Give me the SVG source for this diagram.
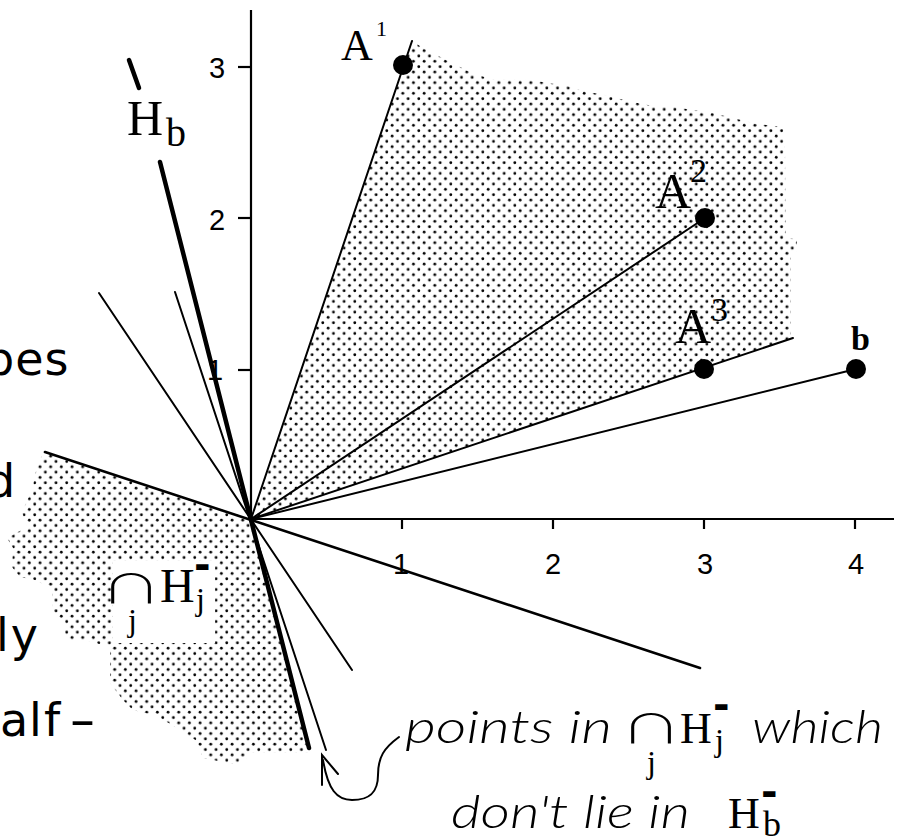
<svg xmlns="http://www.w3.org/2000/svg" width="898" height="836" viewBox="0 0 898 836">
<defs>
  <pattern id="stip" width="10.67" height="10.67" patternUnits="userSpaceOnUse">
    <circle cx="2.67" cy="2.67" r="1.4" fill="#000"/>
    <circle cx="8" cy="8" r="1.4" fill="#000"/>
  </pattern>
</defs>
<style>
  .thin{stroke:#000;stroke-width:2;fill:none;stroke-linecap:round}
  .mid{stroke:#000;stroke-width:2.6;fill:none;stroke-linecap:round}
  .thick{stroke:#000;stroke-width:4.5;fill:none;stroke-linecap:round}
  .ax{stroke:#000;stroke-width:2.2;fill:none}
  .num{font-family:"Liberation Sans",Arial,sans-serif;font-size:29px;fill:#000}
  .serif{font-family:"Liberation Serif","Times New Roman",serif;fill:#000}
  .big{font-family:"DejaVu Sans",sans-serif;font-size:46px;fill:#000}
  .ital{font-family:Lato,"DejaVu Sans",sans-serif;font-style:italic;font-weight:300;font-size:46px;fill:#000}
  .sym{font-family:"Noto Sans CJK SC","DejaVu Sans",sans-serif;font-weight:300;font-size:44px;fill:#000}
  .bar{font-family:"DejaVu Sans",sans-serif;font-weight:bold;font-size:40px;fill:#000}
  .dot{fill:#000}
</style>
<rect width="898" height="836" fill="#fff"/>

<g id="shading" stroke="none">
  <polygon fill="url(#stip)" points="251,519 412,41 423,48 450,62 470,72 490,79 530,80 567,86 583,91 610,96 627,101 653,106 673,107 700,111 713,113 733,118 757,124 783,127 785,150 786,237 797,240 797,251 791,254 791,337 793,338"/>
  <polygon fill="url(#stip)" points="251,519 45,452 38,462 32,490 22,512 27,527 7,538 13,548 12,567 20,577 35,580 52,588 53,610 65,628 65,640 85,640 110,647 110,683 123,700 133,710 157,716 172,725 197,741 203,758 233,764 245,762 248,753 310,753"/>
  <rect x="113" y="561" width="102" height="82" fill="#fff"/>
</g>

<g id="axes">
  <line class="ax" x1="251" y1="10" x2="251" y2="519"/>
  <line class="ax" x1="251" y1="519" x2="894" y2="519"/>
  <line class="ax" x1="238" y1="67" x2="251" y2="67"/>
  <line class="ax" x1="238" y1="218" x2="251" y2="218"/>
  <line class="ax" x1="238" y1="370" x2="251" y2="370"/>
  <line class="ax" x1="402" y1="519" x2="402" y2="529"/>
  <line class="ax" x1="553" y1="519" x2="553" y2="529"/>
  <line class="ax" x1="704" y1="519" x2="704" y2="529"/>
  <line class="ax" x1="855" y1="519" x2="855" y2="529"/>
  <text class="num" x="217" y="78" text-anchor="middle">3</text>
  <text class="num" x="217" y="230" text-anchor="middle">2</text>
  <text class="num" x="215" y="380" text-anchor="middle">1</text>
  <text class="num" x="401" y="574" text-anchor="middle">1</text>
  <text class="num" x="553" y="574" text-anchor="middle">2</text>
  <text class="num" x="705" y="574" text-anchor="middle">3</text>
  <text class="num" x="856" y="574" text-anchor="middle">4</text>
</g>

<g id="connectors">
  <line class="mid" x1="45" y1="452" x2="700" y2="668"/>
  <line class="thin" x1="99" y1="293" x2="352" y2="670"/>
  <line class="thin" x1="175" y1="292" x2="326" y2="750"/>
  <line class="thin" x1="251" y1="519" x2="412" y2="41"/>
  <line class="thin" x1="251" y1="519" x2="705" y2="218"/>
  <line class="thin" x1="251" y1="519" x2="793" y2="338"/>
  <line class="thin" x1="251" y1="519" x2="856" y2="369"/>
  <line class="thick" x1="160" y1="162" x2="309" y2="748"/>
  <line class="thick" x1="129" y1="60" x2="139" y2="88"/>
  <path class="thin" d="M399,737 C384,748 378,757 378,775 C378,792 370,800 352,800 C337,800 328,790 323,760"/>
  <path class="thin" d="M322,785 L322,755 L338,774"/>
</g>

<g id="node-A1">
  <circle class="dot" cx="403" cy="65" r="10"/>
  <text class="serif" x="341" y="60" font-size="44">A</text>
  <text class="serif" x="376" y="36" font-size="22">1</text>
</g>
<g id="node-A2">
  <circle class="dot" cx="705" cy="218" r="10"/>
  <text class="serif" x="655" y="208" font-size="50">A</text>
  <text class="serif" x="690" y="182" font-size="34">2</text>
</g>
<g id="node-A3">
  <circle class="dot" cx="704" cy="369" r="10"/>
  <text class="serif" x="675" y="343" font-size="50">A</text>
  <text class="serif" x="711" y="321" font-size="34">3</text>
</g>
<g id="node-b">
  <circle class="dot" cx="856" cy="369" r="10"/>
  <text class="serif" x="851" y="350" font-size="34" font-weight="bold">b</text>
</g>

<g id="label-Hb">
  <text class="serif" x="127" y="135" font-size="50">H</text>
  <text class="serif" x="166" y="146" font-size="40">b</text>
</g>

<g id="label-intersection">
  <text class="sym" transform="translate(131,603) scale(1.4,0.9)" text-anchor="middle">∩</text>
  <text class="serif" x="128" y="631" font-size="32">j</text>
  <text class="serif" x="160" y="602" font-size="48">H</text>
  <text class="serif" x="196" y="610" font-size="32">j</text>
  <text class="bar" x="194" y="579">-</text>
</g>

<g id="left-text">
  <text class="big" x="-15" y="375" letter-spacing="1">pes</text>
  <text class="big" x="-14" y="497">d</text>
  <text class="big" x="-4" y="651" letter-spacing="2">ly</text>
  <text class="big" x="0 29 44" y="736">alf</text>
  <text class="big" x="69" y="736" textLength="27" lengthAdjust="spacingAndGlyphs">-</text>
</g>

<g id="annotation">
  <text class="ital" x="405" y="743" textLength="207" lengthAdjust="spacingAndGlyphs">points in</text>
  <text class="sym" transform="translate(651,743) scale(1.4,0.9)" text-anchor="middle">∩</text>
  <text class="serif" x="647" y="773" font-size="32">j</text>
  <text class="serif" x="680" y="743" font-size="44">H</text>
  <text class="serif" x="715" y="751" font-size="32">j</text>
  <text class="bar" x="713" y="719">-</text>
  <text class="ital" x="752" y="743" textLength="131" lengthAdjust="spacingAndGlyphs">which</text>
  <text class="ital" x="451" y="828" textLength="239" lengthAdjust="spacingAndGlyphs">don't lie in</text>
  <text class="serif" x="728" y="828" font-size="44">H</text>
  <text class="serif" x="763" y="836" font-size="36">b</text>
  <text class="bar" x="761" y="806">-</text>
</g>
</svg>
